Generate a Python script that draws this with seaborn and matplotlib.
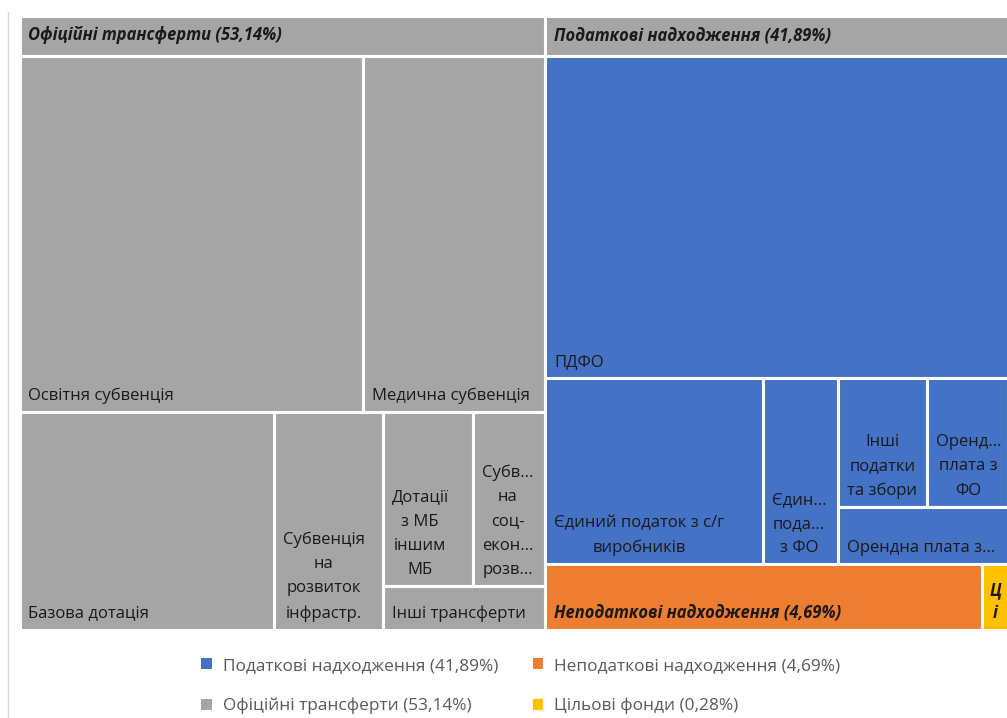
import matplotlib
matplotlib.use('Agg')
import matplotlib.pyplot as plt
import seaborn as sns
from matplotlib.patches import Rectangle, Patch
from matplotlib.lines import Line2D

# ---------------- data ----------------
group_names = ['Офіційні трансферти', 'Податкові надходження',
               'Неподаткові надходження', 'Цільові фонди']
group_pct = [53.14, 41.89, 4.69, 0.28]
group_pct_text = ['53,14%', '41,89%', '4,69%', '0,28%']
group_colors = ['#A5A5A5', '#4472C4', '#ED7D31', '#FFC000']

transfer_labels = ['Освітня субвенція', 'Медична субвенція', 'Базова дотація',
                   'Субвенція\nна\nрозвиток\nінфрастр.',
                   'Дотації\nз МБ\nіншим\nМБ',
                   'Субв...\nна\nсоц-\nекон...\nрозв...',
                   'Інші трансферти']
transfer_values = [21.61, 11.42, 9.73, 4.16, 2.77, 2.20, 1.25]

tax_labels = ['ПДФО', 'Єдиний податок з с/г\nвиробників', 'Єдин...\nпода...\nз ФО',
              'Інші\nподатки\nта збори', 'Оренд...\nплата з\nФО', 'Орендна плата з...']
tax_values = [26.53, 7.21, 2.50, 2.02, 1.87, 1.75]

short_labels = {2: 'Неподаткові надходження (4,69%)', 3: 'Ц\nі'}

# split structure of the treemap (h = side by side, v = stacked)
top_tree = ('h', [0, ('v', [1, ('h', [2, 3])])])
transfer_tree = ('v', [('h', [0, 1]), ('h', [2, 3, ('v', [('h', [4, 5]), 6])])])
tax_tree = ('v', [0, ('h', [1, 2, ('v', [('h', [3, 4]), 5])])])


def weight(node, vals):
    if isinstance(node, int):
        return vals[node]
    return sum(weight(c, vals) for c in node[1])


def place(node, vals, x, y, w, h, out):
    if isinstance(node, int):
        out[node] = (x, y, w, h)
        return
    kind, kids = node
    tot = weight(node, vals)
    for k in kids:
        f = weight(k, vals) / tot
        if kind == 'h':
            place(k, vals, x, y, w * f, h, out)
            x += w * f
        else:
            place(k, vals, x, y, w, h * f, out)
            y += h * f


# ---------------- figure ----------------
sns.set_theme(style='white')
plt.rcParams['font.family'] = ['Open Sans', 'DejaVu Sans']

W, H = 1007, 718
fig = plt.figure(figsize=(W / 100, H / 100), dpi=100)
fig.patch.set_facecolor('white')
fx0, fy0, fx1, fy1 = 19.5, 15.5, 1008.5, 629.5
ax = fig.add_axes([fx0 / W, 1 - fy1 / H, (fx1 - fx0) / W, (fy1 - fy0) / H])
FW, FH = fx1 - fx0, fy1 - fy0
ax.set_xlim(0, FW)
ax.set_ylim(FH, 0)
ax.axis('off')

header_h = 40
lab_fs = 12
head_fs = 11.9
txt_col = '#1A1A1A'
edge_lw = 2.2


def draw_rect(r, color):
    x, y, w, h = r
    ax.add_patch(Rectangle((x, y), w, h, facecolor=color, edgecolor='white',
                           linewidth=edge_lw))


def leaf_label(r, text, bold=False):
    x, y, w, h = r
    ax.annotate(text, xy=(x, y + h), xytext=(9, 8), textcoords='offset pixels',
                ha='left', va='bottom', multialignment='center',
                fontsize=head_fs if bold else lab_fs, color=txt_col,
                linespacing=1.68,
                fontweight='bold' if bold else 'normal',
                fontstyle='italic' if bold else 'normal')


groups = {}
place(top_tree, group_pct, 0, 0, FW, FH, groups)

children = {0: (transfer_tree, transfer_values, transfer_labels),
            1: (tax_tree, tax_values, tax_labels)}

for gi in range(len(group_names)):
    x, y, w, h = groups[gi]
    if gi in children:
        tree, vals, labs = children[gi]
        draw_rect((x, y, w, header_h), '#A5A5A5')
        ax.annotate(f'{group_names[gi]} ({group_pct_text[gi]})',
                    xy=(x, y + header_h / 2), xytext=(9, 0),
                    textcoords='offset pixels', ha='left', va='center',
                    fontsize=head_fs, fontweight='bold', fontstyle='italic',
                    color=txt_col)
        cells = {}
        place(tree, vals, x, y + header_h, w, h - header_h, cells)
        for ci in range(len(vals)):
            draw_rect(cells[ci], group_colors[gi])
            leaf_label(cells[ci], labs[ci])
    else:
        draw_rect((x, y, w, h), group_colors[gi])
        if gi == 3:
            ax.annotate(short_labels[gi], xy=(x + w / 2, y + h), xytext=(0, 8),
                        textcoords='offset pixels', ha='center', va='bottom',
                        fontsize=head_fs, fontweight='bold', fontstyle='italic',
                        color=txt_col, linespacing=1.3)
        else:
            leaf_label((x, y, w, h), short_labels[gi], bold=True)

# legend
order = [1, 0, 2, 3]
handles = [Patch(facecolor=group_colors[i], edgecolor='none',
                 label=f'{group_names[i]} ({group_pct_text[i]})') for i in order]
fig.legend(handles=handles, ncol=2, loc='center',
           bbox_to_anchor=(521 / W, 1 - 686 / H), frameon=False,
           fontsize=12.4, labelcolor='#595959', handlelength=0.6,
           handleheight=0.6, handletextpad=0.65, columnspacing=2.0,
           labelspacing=1.38)

fig.add_artist(Line2D([8 / W, 8 / W], [0, 1 - 12 / H], color='#D9D9D9',
                      lw=1, transform=fig.transFigure))

fig.savefig('out.png', dpi=100)
